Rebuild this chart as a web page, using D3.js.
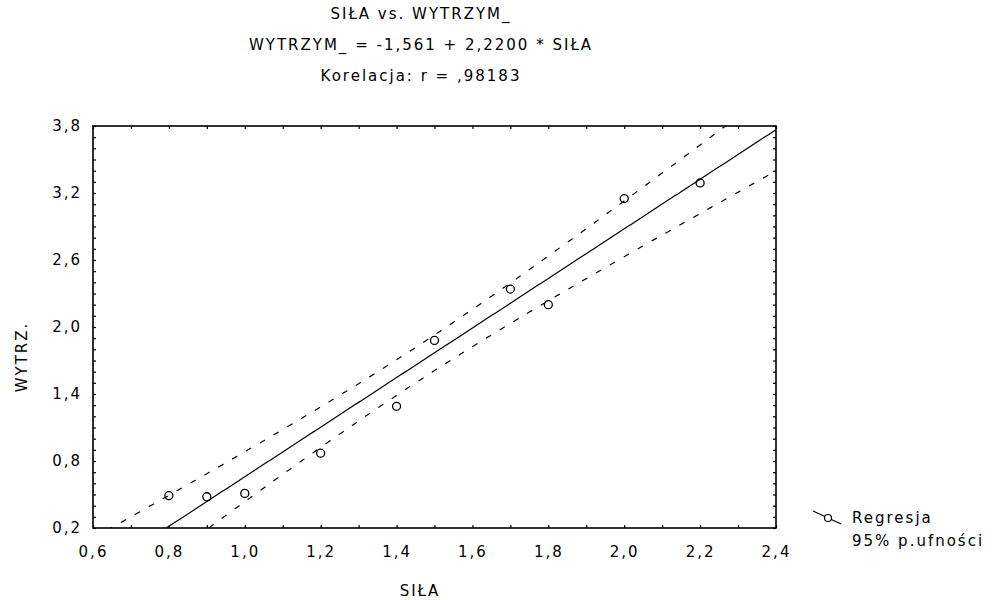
<!DOCTYPE html>
<html>
<head>
<meta charset="utf-8">
<script src="https://cdn.jsdelivr.net/npm/d3@7"></script>
<style>
  body { margin: 0; background: #fff; }
  svg text { font-family: "DejaVu Sans", sans-serif; font-size: 15px; letter-spacing: 2px; fill: #000; }
</style>
</head>
<body>
<div id="chart"></div>
<script>
// data
let sila = [0.8, 0.9, 1.0, 1.2, 1.4, 1.5, 1.7, 1.8, 2.0, 2.2];
let wytrzym = [0.49, 0.48, 0.51, 0.87, 1.29, 1.88, 2.34, 2.2, 3.15, 3.29];
let xTickLabels = [0.6, 0.8, 1.0, 1.2, 1.4, 1.6, 1.8, 2.0, 2.2, 2.4];
let yTickLabels = [0.2, 0.8, 1.4, 2.0, 2.6, 3.2, 3.8];
let titles = ["SIŁA vs. WYTRZYM_", "WYTRZYM_ = -1,561 + 2,2200 * SIŁA", "Korelacja: r = ,98183"];
let legendLabels = ["Regresja", "95% p.ufności"];
// regression from the title
let intercept = -1.561, slope = 2.22, tCrit = 2.306;

let W = 992, H = 600;
let margin = { top: 126, right: 216, bottom: 72, left: 93 };
let width = W - margin.left - margin.right;
let height = H - margin.top - margin.bottom;

let svg = d3.select('#chart').append('svg')
  .attr('width', W)
  .attr('height', H);

let x = d3.scaleLinear().domain([0.6, 2.4]).range([0, width]);
let y = d3.scaleLinear().domain([0.2, 3.8]).range([height, 0]);

let fmt = d => d3.format(".1f")(d).replace(".", ",");

// titles
titles.forEach((t, i) => {
  svg.append('text')
    .attr('x', 421).attr('y', 19 + i * 31)
    .attr('text-anchor', 'middle')
    .text(t);
});

let g = svg.append('g').attr('transform', `translate(${margin.left},${margin.top})`);

g.append('clipPath').attr('id', 'clip')
  .append('rect').attr('width', width).attr('height', height);

// axes with inward ticks every 0.1
let xMinor = d3.range(6, 25).map(d => d / 10);
let yMinor = d3.range(2, 39).map(d => d / 10);
let isMajor = (v, list) => list.some(m => Math.abs(m - v) < 1e-6);

g.append('g').attr('class', 'x-axis')
  .attr('transform', `translate(0,${height})`)
  .call(d3.axisBottom(x).tickValues(xMinor).tickSizeInner(-3).tickSizeOuter(0).tickPadding(18)
    .tickFormat(d => isMajor(d, xTickLabels) ? fmt(d) : ""));
g.append('g').attr('class', 'x-axis-top')
  .call(d3.axisTop(x).tickValues(xMinor).tickSizeInner(-3).tickSizeOuter(0).tickFormat(""));
g.append('g').attr('class', 'y-axis')
  .call(d3.axisLeft(y).tickValues(yMinor).tickSizeInner(-3).tickSizeOuter(0).tickPadding(11)
    .tickFormat(d => isMajor(d, yTickLabels) ? fmt(d) : ""));
g.append('g').attr('class', 'y-axis-right')
  .attr('transform', `translate(${width},0)`)
  .call(d3.axisRight(y).tickValues(yMinor).tickSizeInner(-3).tickSizeOuter(0).tickFormat(""));

g.selectAll('.domain').remove();
g.selectAll('.tick line').attr('stroke', '#000').attr('stroke-width', 1.2);
g.selectAll('.tick text').style('font-family', '"DejaVu Sans", sans-serif').style('font-size', '15px');

g.append('rect')
  .attr('width', width).attr('height', height)
  .attr('fill', 'none').attr('stroke', '#000').attr('stroke-width', 1.6);

// regression and 95% bands
let n = sila.length;
let xMean = d3.mean(sila);
let sxx = d3.sum(sila, v => (v - xMean) ** 2);
let sse = d3.sum(sila, (v, i) => (wytrzym[i] - (intercept + slope * v)) ** 2);
let s = Math.sqrt(sse / (n - 2));
let grid = d3.range(60, 241).map(d => d / 100);
let fit = v => intercept + slope * v;
let half = v => tCrit * s * Math.sqrt(1 / n + (v - xMean) ** 2 / sxx);

let line = d3.line().x(d => x(d[0])).y(d => y(d[1]));
let lines = g.append('g').attr('clip-path', 'url(#clip)');

lines.append('path')
  .datum(grid.map(v => [v, fit(v)]))
  .attr('d', line).attr('fill', 'none').attr('stroke', '#000').attr('stroke-width', 1.2);

[1, -1].forEach(sign => {
  lines.append('path')
    .datum(grid.map(v => [v, fit(v) + sign * half(v)]))
    .attr('d', line).attr('fill', 'none').attr('stroke', '#000')
    .attr('stroke-width', 1.2).attr('stroke-dasharray', '6,10');
});

// points
g.selectAll('.pt')
  .data(sila.map((v, i) => [v, wytrzym[i]]))
  .join('circle')
  .attr('class', 'pt')
  .attr('cx', d => x(d[0])).attr('cy', d => y(d[1]))
  .attr('r', 4).attr('fill', 'none').attr('stroke', '#000').attr('stroke-width', 1.3);

// axis titles
svg.append('text')
  .attr('x', 420).attr('y', 596).attr('text-anchor', 'middle')
  .text('SIŁA');
svg.append('text')
  .attr('transform', 'translate(27,357) rotate(-90)')
  .attr('text-anchor', 'middle')
  .text('WYTRZ.');

// legend
let leg = svg.append('g').attr('transform', 'translate(813,511)');
leg.append('line').attr('x1', 0).attr('y1', 0).attr('x2', 28).attr('y2', 13)
  .attr('stroke', '#000').attr('stroke-width', 1.2);
leg.append('circle').attr('cx', 15).attr('cy', 7).attr('r', 3.5)
  .attr('fill', '#fff').attr('stroke', '#000').attr('stroke-width', 1.2);
legendLabels.forEach((t, i) => {
  svg.append('text').attr('x', 852).attr('y', 523 + i * 23).text(t);
});
</script>
</body>
</html>
